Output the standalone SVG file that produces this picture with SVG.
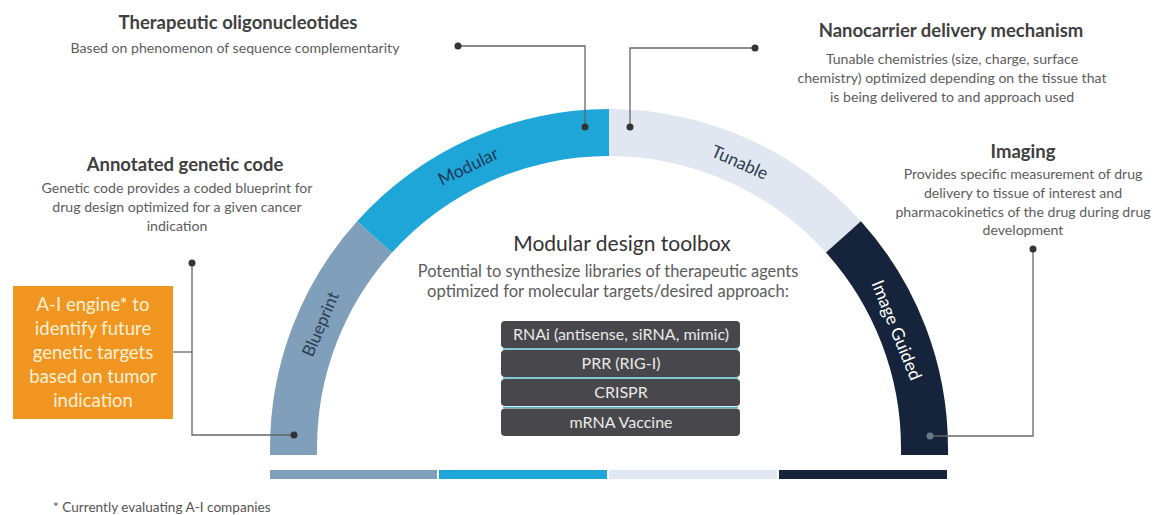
<svg xmlns="http://www.w3.org/2000/svg" width="1153" height="515" viewBox="0 0 1153 515">
<style>
text{font-family:Lato,"Open Sans","Liberation Sans",sans-serif}
.t{font-size:18.5px;font-weight:700;fill:#404040;text-anchor:middle}
.b{font-size:14.1px;fill:#5c5c5c;text-anchor:middle}
.al{font-size:17.5px;text-anchor:middle;dominant-baseline:central}
.con{fill:none;stroke:#666;stroke-width:1.3}
.dot{fill:#333}
.row{fill:#48484c}
.rt{font-size:16px;fill:#e8e8e8;text-anchor:middle}
.sep{stroke:#5ab4c8;stroke-width:1.5}
.ai{font-size:18.5px;fill:#fff0d6;text-anchor:middle}
</style>
<rect width="1153" height="515" fill="#ffffff"/>
<g id="arc">
<g id="seg-blueprint">
<path d="M270,455 L270,448 A339,339 0 0 1 357.1,221.2 L392,252.6 A292,292 0 0 0 317,448 L317,455 Z" fill="#7f9fbb"/>
<text class="al" fill="#2c3e52" style="font-size:17px" transform="translate(320,324) rotate(-67)">Blueprint</text>
</g>
<g id="seg-modular">
<path d="M357.1,221.2 A339,339 0 0 1 609,109 L609,156 A292,292 0 0 0 392,252.6 Z" fill="#1ea6d8"/>
<text class="al" fill="#1d3a58" transform="translate(468,166) rotate(-26)">Modular</text>
</g>
<g id="seg-tunable">
<path d="M609,109 A339,339 0 0 1 860.9,221.2 L826,252.6 A292,292 0 0 0 609,156 Z" fill="#e1e7f0"/>
<text class="al" fill="#2e3d50" transform="translate(740,162) rotate(24)">Tunable</text>
</g>
<g id="seg-image">
<path d="M860.9,221.2 A339,339 0 0 1 948,448 L948,455 L901,455 L901,448 A292,292 0 0 0 826,252.6 Z" fill="#15243a"/>
<text class="al" fill="#ffffff" transform="translate(897,330) rotate(68)">Image Guided</text>
</g>
</g>
<g id="connectors">
<path class="con" d="M458,46 H585 V127"/>
<path class="con" d="M755,48 H630 V127"/>
<path class="con" d="M192,263 V435 H294"/>
<path class="con" d="M173,352 H192"/>
<path class="con" d="M1033,249 V436 H930"/>
<circle class="dot" cx="458" cy="46" r="3.5"/>
<circle class="dot" cx="585" cy="127" r="3.5"/>
<circle class="dot" cx="755" cy="48" r="3.5"/>
<circle class="dot" cx="630" cy="127" r="3.5"/>
<circle class="dot" cx="192" cy="263" r="3.5"/>
<circle class="dot" cx="294" cy="435" r="3.5"/>
<circle class="dot" cx="1033" cy="249" r="3.5"/>
<circle cx="930" cy="436" r="3.5" fill="#6b7889"/>
</g>
<g id="therapeutic">
<text class="t" x="238" y="29">Therapeutic oligonucleotides</text>
<text class="b" x="235" y="53">Based on phenomenon of sequence complementarity</text>
</g>
<g id="nanocarrier">
<text class="t" x="951" y="37">Nanocarrier delivery mechanism</text>
<text class="b" x="952" y="64">Tunable chemistries (size, charge, surface</text>
<text class="b" x="952" y="83">chemistry) optimized depending on the tissue that</text>
<text class="b" x="952" y="102">is being delivered to and approach used</text>
</g>
<g id="annotated">
<text class="t" x="185" y="171">Annotated genetic code</text>
<text class="b" x="177" y="193">Genetic code provides a coded blueprint for</text>
<text class="b" x="177" y="212">drug design optimized for a given cancer</text>
<text class="b" x="177" y="231">indication</text>
</g>
<g id="imaging">
<text class="t" x="1023" y="158">Imaging</text>
<text class="b" x="1023" y="179">Provides specific measurement of drug</text>
<text class="b" x="1023" y="198">delivery to tissue of interest and</text>
<text class="b" x="1023" y="217">pharmacokinetics of the drug during drug</text>
<text class="b" x="1023" y="235">development</text>
</g>
<g id="ai-engine">
<rect x="13" y="286" width="160" height="133" fill="#f0951f"/>
<text class="ai" x="93" y="311">A-I engine* to</text>
<text class="ai" x="93" y="335">identify future</text>
<text class="ai" x="93" y="359">genetic targets</text>
<text class="ai" x="93" y="383">based on tumor</text>
<text class="ai" x="93" y="407">indication</text>
</g>
<g id="toolbox">
<text x="622" y="251" style="font-size:21px;fill:#333;text-anchor:middle">Modular design toolbox</text>
<text class="b" x="608" y="277" style="font-size:16.4px">Potential to synthesize libraries of therapeutic agents</text>
<text class="b" x="608" y="297" style="font-size:16.6px">optimized for molecular targets/desired approach:</text>
<rect class="row" x="501" y="321" width="239" height="27" rx="4"/>
<rect class="row" x="501" y="350" width="239" height="27" rx="4"/>
<rect class="row" x="501" y="379" width="239" height="27" rx="4"/>
<rect class="row" x="501" y="408.5" width="239" height="27.5" rx="4"/>
<line class="sep" x1="503" y1="349" x2="738" y2="349"/>
<line class="sep" x1="503" y1="378" x2="738" y2="378"/>
<line class="sep" x1="503" y1="407.5" x2="738" y2="407.5"/>
<text class="rt" x="621" y="340">RNAi (antisense, siRNA, mimic)</text>
<text class="rt" x="621" y="369">PRR (RIG-I)</text>
<text class="rt" x="621" y="398">CRISPR</text>
<text class="rt" x="621" y="428">mRNA Vaccine</text>
</g>
<g id="legend-bar">
<rect x="270" y="470" width="167" height="9" fill="#7f9fbb"/>
<rect x="439" y="470" width="168" height="9" fill="#1ea6d8"/>
<rect x="609" y="470" width="168" height="9" fill="#e1e7f0"/>
<rect x="779" y="470" width="168" height="9" fill="#15243a"/>
</g>
<g id="footnote">
<text x="53" y="512" style="font-size:13.6px;fill:#555">* Currently evaluating A-I companies</text>
</g>
</svg>
